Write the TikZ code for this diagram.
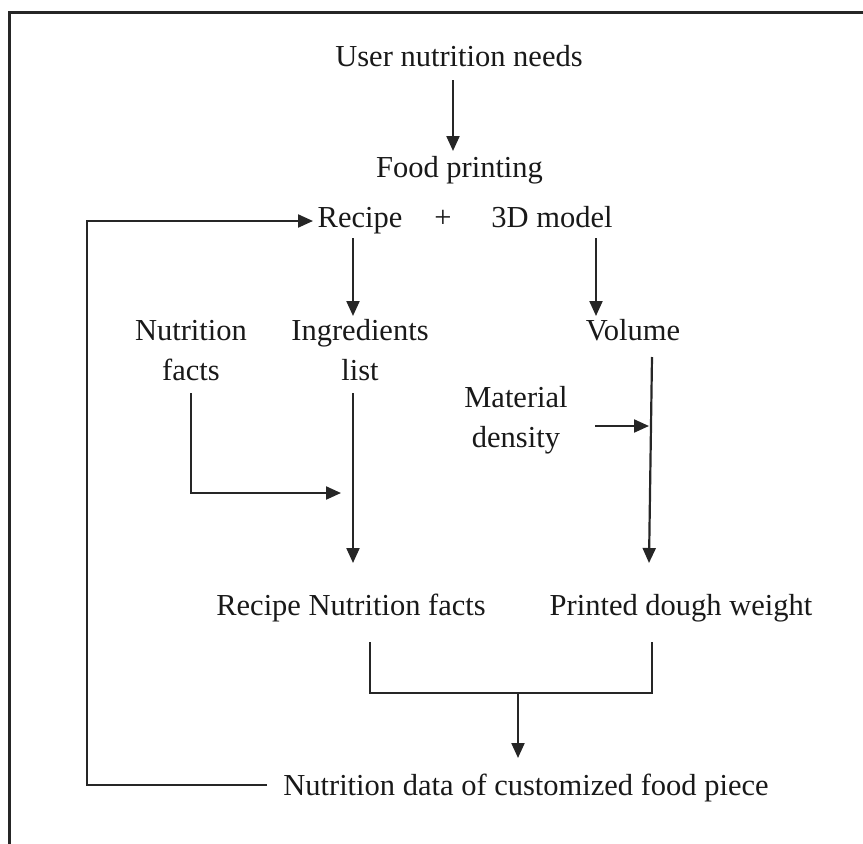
\documentclass[tikz,border=0pt]{standalone}
\usepackage{fontspec}
\setmainfont{Liberation Serif}
\usetikzlibrary{arrows.meta}
\tikzset{
  lbl/.style={anchor=north, inner sep=0pt, align=center, font=\fontsize{30.5}{40}\selectfont, text=black!90},
  conn/.style={line width=2.2pt, draw=black!85},
  arr/.style={conn, -{Triangle[length=15pt,width=13pt]}},
}
\begin{document}
\begin{tikzpicture}[x=1pt, y=-1pt]
\useasboundingbox (0,0) rectangle (863,844);
\clip (0,0) rectangle (863,844);
% frame (right and bottom edges lie outside the picture)
\draw[line width=2.4pt, draw=black!85] (9.5,12.5) rectangle (900,900);

% text nodes (north = baseline - 28)
\node[lbl] (user)   at (459,38)  {\strut User nutrition needs};
\node[lbl] (food)   at (459.5,149) {\strut Food printing};
\node[lbl] (recipe) at (360,199) {\strut Recipe};
\node[lbl] (plus)   at (443,199) {\strut +};
\node[lbl] (model)  at (552,199) {\strut 3D model};
\node[lbl] (nfacts) at (191,312) {\strut Nutrition\\facts};
\node[lbl] (ingr)   at (360,312) {\strut Ingredients\\list};
\node[lbl] (volume) at (633,312) {\strut Volume};
\node[lbl] (matd)   at (516,379) {\strut Material\\density};
\node[lbl] (rnf)    at (351,587) {\strut Recipe Nutrition facts};
\node[lbl] (pdw)    at (681,587) {\strut Printed dough weight};
\node[lbl] (nd)     at (526,767) {\strut Nutrition data of customized food piece};

% connector end points
\coordinate (userOut)   at (453,80);
\coordinate (foodIn)    at (453,151);
\coordinate (recipeOut) at (353,238);
\coordinate (ingrIn)    at (353,316);
\coordinate (modelOut)  at (596,238);
\coordinate (volIn)     at (596,316);
\coordinate (ndOut)     at (267,785);
\coordinate (fbCorner)  at (87,221);
\coordinate (recipeIn)  at (313,221);
\coordinate (nfOut)     at (191,393);
\coordinate (nfIn)      at (341,493);
\coordinate (ingrOut)   at (353,393);
\coordinate (rnfIn)     at (353,563);
\coordinate (mdOut)     at (595,426);
\coordinate (mdIn)      at (649,426);
\coordinate (volOut)    at (652,357);
\coordinate (pdwIn)     at (649,563);
\coordinate (rnfOut)    at (370,642);
\coordinate (pdwOut)    at (652,642);
\coordinate (merge)     at (518,693);
\coordinate (ndIn)      at (518,758);

% connectors
\draw[arr] (userOut) -- (foodIn);
\draw[arr] (recipeOut) -- (ingrIn);
\draw[arr] (modelOut) -- (volIn);
\draw[arr] (ndOut) -| (fbCorner) -- (recipeIn);
\draw[arr] (nfOut) |- (nfIn);
\draw[arr] (ingrOut) -- (rnfIn);
\draw[arr] (mdOut) -- (mdIn);
\draw[arr] (volOut) -- (pdwIn);
\draw[conn] (rnfOut) |- (merge) -| (pdwOut);
\draw[arr] (merge) -- (ndIn);
\end{tikzpicture}
\end{document}
